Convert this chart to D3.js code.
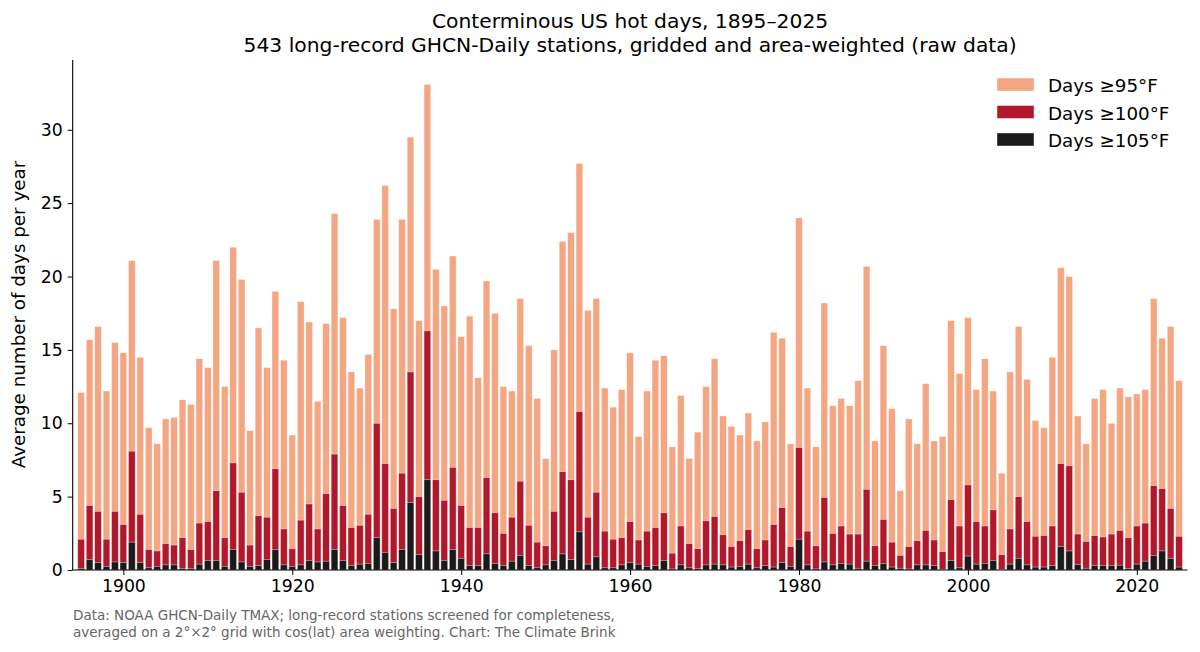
<!DOCTYPE html>
<html>
<head>
<meta charset="utf-8">
<script src="https://cdn.jsdelivr.net/npm/d3@7"></script>
<style>
  html, body { margin: 0; padding: 0; background: #fff; }
  svg { display: block; font-family: "DejaVu Sans", sans-serif; }
</style>
</head>
<body>
<svg id="chart" width="1200" height="652"></svg>
<script>
const firstYear = 1895;
const days95 = [
  12.1, 15.7, 16.6, 12.2, 15.5, 14.8, 21.1, 14.5, 9.7, 8.6,
  10.3, 10.4, 11.6, 11.3, 14.4, 13.8, 21.1, 12.5, 22.0, 19.8,
  9.5, 16.5, 13.8, 19.0, 14.3, 9.2, 18.3, 16.9, 11.5, 16.8,
  24.3, 17.2, 13.5, 12.4, 14.7, 23.9, 26.2, 17.8, 23.9, 29.5,
  17.0, 33.1, 20.5, 18.0, 21.4, 15.9, 17.3, 13.1, 19.7, 17.5,
  12.5, 12.2, 18.5, 15.3, 11.7, 7.6, 15.0, 22.4, 23.0, 27.7,
  17.7, 18.5, 12.4, 11.1, 12.3, 14.8, 9.1, 12.2, 14.3, 14.6,
  8.4, 11.9, 7.6, 9.4, 12.5, 14.4, 10.5, 9.8, 9.2, 10.7,
  8.8, 10.1, 16.2, 15.8, 8.6, 24.0, 12.4, 8.4, 18.2, 11.2,
  11.7, 11.2, 12.9, 20.7, 8.8, 15.3, 11.0, 5.4, 10.3, 8.6,
  12.7, 8.8, 9.1, 17.0, 13.4, 17.2, 12.3, 14.4, 12.2, 6.6,
  13.5, 16.6, 13.0, 10.2, 9.7, 14.5, 20.6, 20.0, 10.5, 8.6,
  11.7, 12.3, 10.0, 12.4, 11.8, 12.0, 12.3, 18.5, 15.8, 16.6,
  12.9
];
const days100 = [
  2.1, 4.4, 4.0, 2.1, 4.0, 3.1, 8.1, 3.8, 1.4, 1.3,
  1.8, 1.7, 2.2, 1.4, 3.2, 3.3, 5.4, 2.2, 7.3, 5.3,
  1.7, 3.7, 3.6, 6.9, 2.8, 1.45, 3.4, 4.5, 2.8, 5.2,
  7.9, 4.4, 2.9, 3.05, 3.8, 10.0, 7.25, 4.2, 6.6, 13.5,
  5.0, 16.3, 6.15, 4.75, 7.0, 4.4, 2.9, 2.9, 6.3, 3.9,
  2.5, 3.6, 6.05, 3.05, 1.9, 1.65, 4.0, 6.7, 6.15, 10.8,
  3.6, 5.3, 2.65, 2.1, 2.2, 3.3, 2.05, 2.65, 2.9, 3.9,
  1.15, 3.0, 1.8, 1.45, 3.35, 3.65, 2.4, 1.6, 2.0, 2.75,
  1.45, 2.05, 3.1, 4.25, 1.6, 8.35, 2.65, 1.65, 4.95, 2.5,
  3.0, 2.45, 2.45, 5.5, 1.65, 3.45, 1.9, 1.0, 1.6, 2.0,
  2.7, 2.05, 1.25, 4.8, 3.0, 5.8, 3.3, 3.0, 4.1, 1.05,
  2.8, 5.0, 3.3, 2.3, 2.35, 3.0, 7.25, 7.1, 2.45, 1.95,
  2.35, 2.25, 2.45, 2.7, 2.2, 3.0, 3.2, 5.75, 5.55, 4.2,
  2.3
];
const days105 = [
  0.1, 0.7, 0.5, 0.25, 0.55, 0.5, 1.9, 0.5, 0.15, 0.25,
  0.35, 0.35, 0.1, 0.1, 0.4, 0.65, 0.65, 0.25, 1.4, 0.55,
  0.25, 0.3, 0.7, 1.4, 0.35, 0.25, 0.35, 0.65, 0.55, 0.6,
  1.4, 0.65, 0.3, 0.4, 0.45, 2.2, 1.2, 0.5, 1.4, 4.6,
  1.05, 6.15, 1.3, 0.65, 1.4, 0.8, 0.3, 0.3, 1.1, 0.45,
  0.3, 0.6, 1.0, 0.3, 0.15, 0.35, 0.65, 1.1, 0.7, 2.6,
  0.4, 0.9, 0.15, 0.15, 0.35, 0.5, 0.4, 0.25, 0.3, 0.65,
  0.07, 0.35, 0.15, 0.1, 0.35, 0.4, 0.35, 0.2, 0.25, 0.4,
  0.15, 0.3, 0.2, 0.5, 0.25, 2.1, 0.35, 0.07, 0.55, 0.35,
  0.45, 0.4, 0.12, 0.6, 0.3, 0.45, 0.2, 0.12, 0.07, 0.35,
  0.35, 0.3, 0.05, 0.65, 0.15, 0.95, 0.4, 0.45, 0.65, 0.05,
  0.4, 0.8, 0.35, 0.2, 0.2, 0.3, 1.6, 1.3, 0.38, 0.12,
  0.3, 0.3, 0.3, 0.33, 0.1, 0.4, 0.6, 1.0, 1.3, 0.8,
  0.2
];
const years = days95.map((_, i) => firstYear + i);
const yTicks = [0, 5, 10, 15, 20, 25, 30];
const xTicks = [1900, 1920, 1940, 1960, 1980, 2000, 2020];
const seriesNames = ["Days \u226595\u00b0F", "Days \u2265100\u00b0F", "Days \u2265105\u00b0F"];
const seriesColors = ["#f4a582", "#b2182b", "#1a1a1a"];
const titleLines = ["Conterminous US hot days, 1895\u20132025",
  "543 long-record GHCN-Daily stations, gridded and area-weighted (raw data)"];
const yLabel = "Average number of days per year";
const footLines = ["Data: NOAA GHCN-Daily TMAX; long-record stations screened for completeness,",
  "averaged on a 2\u00b0\u00d72\u00b0 grid with cos(lat) area weighting. Chart: The Climate Brink"];

const svg = d3.select("#chart");
const m = { left: 72.7, right: 1187.5, top: 60, bottom: 570 };

const x = d3.scaleLinear().domain([1894, 2026]).range([m.left, m.right]);
const y = d3.scaleLinear().domain([0, 34.755]).range([m.bottom, m.top]);
const bw = x(1894.8) - x(1894);

const series = [days95, days100, days105];
series.forEach((vals, si) => {
  svg.append("g").selectAll("rect").data(vals).join("rect")
    .attr("x", (d, i) => x(years[i]) - bw / 2)
    .attr("width", bw)
    .attr("y", d => y(d))
    .attr("height", d => y(0) - y(d))
    .attr("fill", seriesColors[si])
    .attr("stroke", "#fff")
    .attr("stroke-opacity", 0.7)
    .attr("stroke-width", 0.6);
});

const xAxis = svg.append("g").attr("transform", `translate(0,${m.bottom})`)
  .call(d3.axisBottom(x).tickValues(xTicks).tickFormat(d3.format("d")).tickSize(5).tickPadding(5));
const yAxis = svg.append("g").attr("transform", `translate(${m.left},0)`)
  .call(d3.axisLeft(y).tickValues(yTicks).tickSize(5).tickPadding(5));
[xAxis, yAxis].forEach(a => {
  a.selectAll("text").attr("font-size", 17.3).attr("fill", "#000").attr("font-family", "DejaVu Sans");
  a.selectAll("line").attr("stroke", "#000").attr("stroke-width", 1);
  a.select(".domain").attr("stroke", "#000").attr("stroke-width", 1.1);
});
xAxis.select(".domain").attr("d", `M${m.left},0H${m.right}`);
yAxis.select(".domain").attr("d", `M0,${m.bottom}V${m.top}`);

svg.append("text").attr("x", 20).attr("y", (m.top + m.bottom) / 2 - 0.5)
  .attr("transform", `rotate(-90,20,${(m.top + m.bottom) / 2 - 0.5})`)
  .attr("text-anchor", "middle").attr("dominant-baseline", "middle")
  .attr("font-size", 18.3).attr("fill", "#000").text(yLabel);

const cx = (m.left + m.right) / 2;
titleLines.forEach((t, i) => {
  svg.append("text").attr("x", cx).attr("y", 28 + i * 23.5)
    .attr("text-anchor", "middle").attr("font-size", 20.3).attr("fill", "#000").text(t);
});

footLines.forEach((t, i) => {
  svg.append("text").attr("x", 73).attr("y", 620 + i * 17)
    .attr("font-size", 13.5).attr("fill", "#666").text(t);
});

const leg = svg.append("g");
seriesNames.forEach((n, i) => {
  const yy = 78 + i * 27.5;
  leg.append("rect").attr("x", 997).attr("y", yy).attr("width", 37).attr("height", 13)
    .attr("fill", seriesColors[i]).attr("stroke", "#fff").attr("stroke-opacity", 0.7).attr("stroke-width", 0.6);
  leg.append("text").attr("x", 1048).attr("y", yy + 7.5).attr("dominant-baseline", "central")
    .attr("font-size", 18.3).attr("fill", "#000").text(n);
});
</script>
</body>
</html>
